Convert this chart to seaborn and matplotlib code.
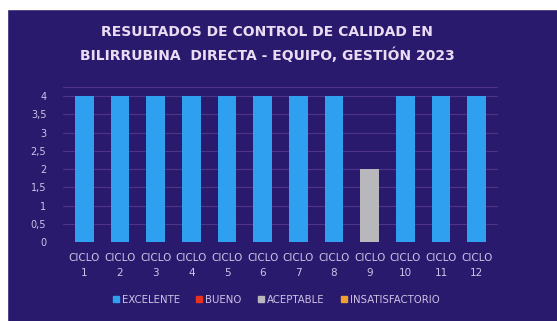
import matplotlib
matplotlib.use("Agg")
import matplotlib.pyplot as plt
import seaborn as sns
import pandas as pd
from matplotlib.patches import Rectangle
from matplotlib.lines import Line2D

ciclos = [f"CICLO\n{i}" for i in range(1, 13)]
valores = [4, 4, 4, 4, 4, 4, 4, 4, 2, 4, 4, 4]
clasif = ["EXCELENTE"] * 8 + ["ACEPTABLE"] + ["EXCELENTE"] * 3
categorias = ["EXCELENTE", "BUENO", "ACEPTABLE", "INSATISFACTORIO"]
colores = ["#2f9ff0", "#e8321e", "#b8b8bc", "#f0a030"]
yticks = [0, 0.5, 1, 1.5, 2, 2.5, 3, 3.5, 4]
ytick_labels = ["0", "0,5", "1", "1,5", "2", "2,5", "3", "3,5", "4"]
titulo = "RESULTADOS DE CONTROL DE CALIDAD EN\nBILIRRUBINA  DIRECTA - EQUIPO, GESTIÓN 2023"

df = pd.DataFrame({"ciclo": ciclos, "valor": valores, "clasif": clasif})

sns.set_theme(style="white")
plt.rcParams['font.family'] = ['DejaVu Sans']
bg = "#2a1a6e"
txt = "#cfc4e6"

fig = plt.figure(figsize=(5.57, 3.21), dpi=100)
fig.patch.set_facecolor(bg)
# white margins top and left
fig.add_artist(Rectangle((0, 1 - 9/321), 1, 9/321, transform=fig.transFigure, color="white", zorder=0))
fig.add_artist(Rectangle((0, 0), 7/557, 1, transform=fig.transFigure, color="white", zorder=0))

ax = fig.add_axes([63/557, 79/321, 435/557, 155/321])
ax.set_facecolor(bg)
sns.barplot(data=df, x="ciclo", y="valor", hue="clasif", hue_order=categorias,
            palette=dict(zip(categorias, colores)), dodge=False, width=0.53,
            saturation=1, linewidth=0, edgecolor="none",
            ax=ax, legend=False, zorder=3)
ax.set_ylim(0, 4.25)
ax.set_xlim(-0.6, 11.6)
ax.set_yticks(yticks)
ax.set_yticklabels(ytick_labels)
for y in yticks + [4.25]:
    ax.axhline(y, color="#4f3588", lw=0.8, zorder=1)
for s in ax.spines.values():
    s.set_visible(False)
ax.tick_params(axis="y", colors=txt, labelsize=7, length=0, pad=12)
ax.tick_params(axis="x", colors=txt, labelsize=7.5, length=0, pad=8)
for lbl in ax.get_xticklabels():
    lbl.set_linespacing(1.6)
ax.set_xlabel("")
ax.set_ylabel("")

fig.text(0.48, 1 - 44/321, titulo, ha="center", va="center", color="#eadcf2",
         fontsize=10, fontweight="bold", linespacing=1.65)

handles = [Line2D([0], [0], marker="s", color="none", markerfacecolor=c, markeredgecolor=c,
                  markersize=5) for c in colores]
fig.legend(handles, categorias, loc="center", bbox_to_anchor=(0.495, 1 - 300/321), ncol=4,
           frameon=False, fontsize=7.3, labelcolor=txt, handletextpad=0.2, columnspacing=1.5,
           handlelength=0.8)

fig.savefig("out.png", dpi=100, facecolor=fig.get_facecolor())
